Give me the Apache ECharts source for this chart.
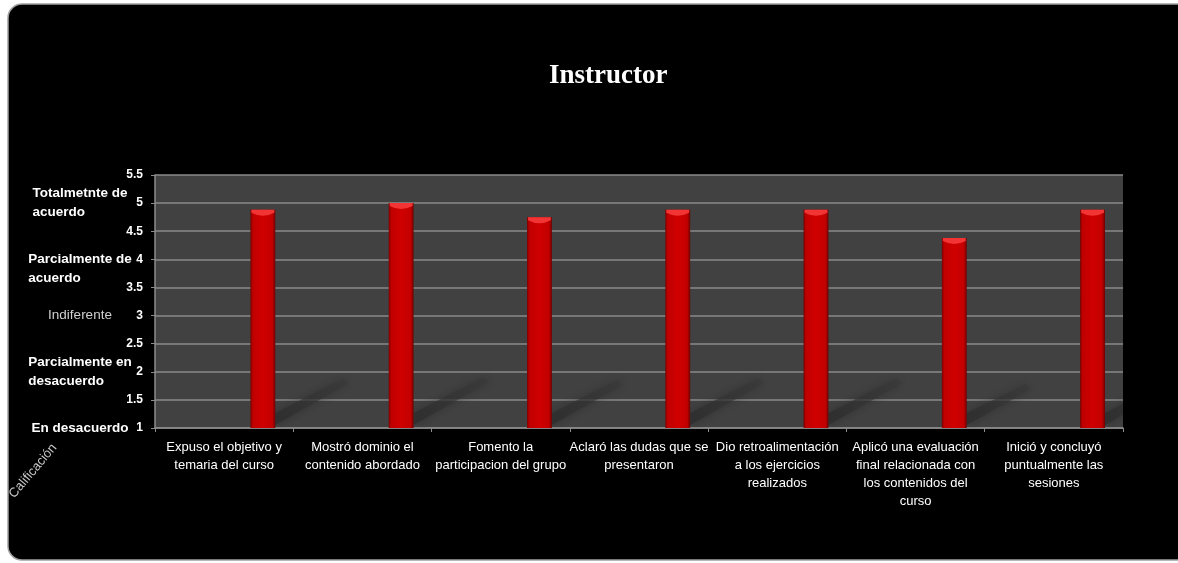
<!DOCTYPE html>
<html>
<head>
<meta charset="utf-8">
<script src="https://cdn.jsdelivr.net/npm/echarts@6/dist/echarts.min.js"></script>
<style>
  html, body { margin: 0; padding: 0; background: #ffffff; }
  #chart { width: 1178px; height: 563px; }
</style>
</head>
<body>
<div id="chart"></div>
<script>
// Survey items about the instructor
const categories = [
  'Expuso el objetivo y\ntemaria del curso',
  'Mostró dominio el\ncontenido abordado',
  'Fomento la\nparticipacion del grupo',
  'Aclaró las dudas que se\npresentaron',
  'Dio retroalimentación\na los ejercicios\nrealizados',
  'Aplicó una evaluación\nfinal relacionada con\nlos contenidos del\ncurso',
  'Inició y concluyó\npuntualmente las\nsesiones'
];

// Average rating per item
const scores = [4.88, 5.0, 4.75, 4.88, 4.88, 4.38, 4.88];

// Rating scale: numeric range and the verbal levels at each whole value
const yMin = 1;
const yMax = 5.5;
const yStep = 0.5;
const levelLabels = [
  'En desacuerdo',
  'Parcialmente en\ndesacuerdo',
  'Indiferente',
  'Parcialmente de\nacuerdo',
  'Totalmetnte de\nacuerdo'
];

const chart = echarts.init(document.getElementById('chart'));

const barData = scores.map((v, i) => [i, v]);

// Soft diagonal floor shadow cast behind each column
function renderShadow(params, api) {
  const idx = api.value(0);
  const val = api.value(1);
  const base = api.coord([idx, yMin]);
  const top = api.coord([idx, val]);
  const band = api.size([1, 0])[0];
  const w = band * 0.18;
  const r = base[0] + band * 0.28 + w / 2;
  const h = base[1] - top[1];
  const dx = h * 0.33;
  const dy = h * 0.21;
  const y0 = base[1] - 3;
  return {
    type: 'polygon',
    shape: {
      points: [
        [r, y0],
        [r, y0 - 12],
        [r + dx - 4, y0 - dy - 1],
        [r + dx + 2, y0 - dy + 4]
      ]
    },
    style: {
      fill: new echarts.graphic.LinearGradient(0, 1, 1, 0, [
        { offset: 0, color: 'rgba(44,44,44,0.75)' },
        { offset: 1, color: 'rgba(56,56,56,0.45)' }
      ]),
      shadowBlur: 10,
      shadowColor: 'rgba(40,40,40,0.9)'
    }
  };
}

// Red column with shaded sides and a lighter top face
function renderBar(params, api) {
  const idx = api.value(0);
  const val = api.value(1);
  const base = api.coord([idx, yMin]);
  const top = api.coord([idx, val]);
  const band = api.size([1, 0])[0];
  const w = band * 0.18;
  const cx = base[0] + band * 0.28;
  const l = cx - w / 2;
  const r = cx + w / 2;
  const t = top[1];
  return {
    type: 'group',
    children: [
      {
        type: 'rect',
        shape: { x: l, y: t, width: w, height: base[1] - t },
        style: {
          fill: new echarts.graphic.LinearGradient(0, 0, 1, 0, [
            { offset: 0, color: '#7a0000' },
            { offset: 0.1, color: '#c00000' },
            { offset: 0.5, color: '#d00000' },
            { offset: 0.88, color: '#c20000' },
            { offset: 1, color: '#6e0000' }
          ])
        }
      },
      {
        type: 'path',
        shape: {
          pathData: 'M' + (l + 1) + ',' + t + ' L' + (r - 1) + ',' + t +
            ' L' + (r - 1) + ',' + (t + 3) +
            ' Q' + cx + ',' + (t + 9) + ' ' + (l + 1) + ',' + (t + 3) + ' Z'
        },
        style: { fill: '#f23434' }
      }
    ]
  };
}

const labelFont = '"Liberation Sans", Arial, sans-serif';

chart.setOption({
  backgroundColor: 'transparent',
  animation: false,
  title: {
    text: 'Instructor',
    left: 544,
    top: 58,
    textStyle: {
      fontFamily: '"Liberation Serif", "Times New Roman", serif',
      fontWeight: 'bold',
      fontSize: 27,
      color: '#ffffff'
    }
  },
  graphic: [
    {
      type: 'rect',
      z: -10,
      shape: { x: 8, y: 4, width: 1190, height: 556, r: 14 },
      style: { fill: '#000000', stroke: '#a0a0a0', lineWidth: 1.5 }
    },
    {
      type: 'text',
      x: 33,
      y: 471,
      rotation: 0.87,
      style: {
        text: 'Calificación',
        fill: '#c8c8c8',
        font: '13px ' + labelFont,
        textAlign: 'center',
        textVerticalAlign: 'middle'
      }
    }
  ],
  grid: {
    left: 155,
    right: 55,
    top: 175,
    bottom: 135,
    show: true,
    backgroundColor: '#414141',
    borderWidth: 0
  },
  xAxis: {
    type: 'category',
    data: categories,
    boundaryGap: true,
    axisLine: { show: true, lineStyle: { color: '#8c8c8c', width: 1.5 } },
    axisTick: { show: true, length: 4, lineStyle: { color: '#8c8c8c' } },
    axisLabel: {
      interval: 0,
      color: '#ffffff',
      fontFamily: labelFont,
      fontSize: 13,
      lineHeight: 18,
      margin: 10
    },
    splitLine: { show: false }
  },
  yAxis: [
    {
      type: 'value',
      min: yMin,
      max: yMax,
      interval: yStep,
      axisLine: { show: true, lineStyle: { color: '#8c8c8c', width: 1.5 } },
      axisTick: { show: true, length: 4, lineStyle: { color: '#8c8c8c' } },
      axisLabel: {
        color: '#ffffff',
        fontFamily: labelFont,
        fontWeight: 'bold',
        fontSize: 12,
        margin: 12
      },
      splitLine: { show: true, lineStyle: { color: '#8a8a8a', width: 1.5 } }
    },
    {
      type: 'value',
      position: 'left',
      offset: 75,
      min: yMin,
      max: yMax,
      interval: 1,
      axisLine: { show: false },
      axisTick: { show: false },
      splitLine: { show: false },
      axisLabel: {
        margin: 0,
        align: 'center',
        fontFamily: labelFont,
        fontWeight: 'bold',
        fontSize: 13.5,
        color: '#ffffff',
        lineHeight: 19,
        formatter: function (v) {
          const i = Math.round(v - yMin);
          if (Math.abs(v - yMin - i) > 1e-6 || i < 0 || i >= levelLabels.length) return '';
          const lines = levelLabels[i].split('\n');
          const style = i === 2 ? 'm' : 't';
          let out = lines.map(s => '{' + style + '|' + s + '}').join('\n');
          if (i === 3) out = '{t| }\n' + out;
          return out;
        },
        rich: {
          t: { align: 'left', fontWeight: 'bold', fontSize: 13.5, color: '#ffffff', lineHeight: 19, fontFamily: labelFont },
          m: { align: 'center', fontWeight: 'normal', fontSize: 13.5, color: '#d0d0d0', lineHeight: 19, fontFamily: labelFont }
        }
      }
    }
  ],
  series: [
    {
      type: 'custom',
      name: 'sombra',
      data: barData,
      encode: { x: 0, y: 1 },
      clip: true,
      z: 1,
      renderItem: renderShadow
    },
    {
      type: 'custom',
      name: 'Calificación',
      data: barData,
      encode: { x: 0, y: 1 },
      z: 2,
      renderItem: renderBar
    }
  ]
});
</script>
</body>
</html>
